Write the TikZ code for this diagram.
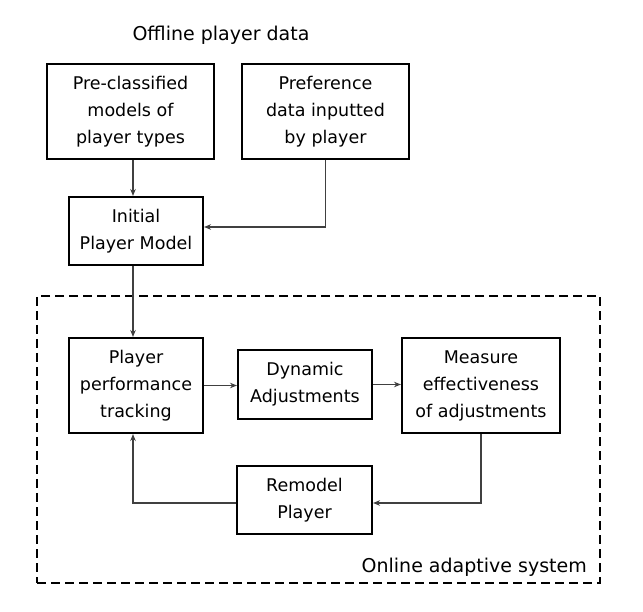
\documentclass[tikz,border=0pt]{standalone}
\usepackage{fontspec}
\setmainfont{DejaVu Sans}
\usetikzlibrary{arrows.meta,calc}
\begin{document}
\begin{tikzpicture}[x=1pt,y=-1pt,
  blk/.style={draw=black,line width=2pt,rectangle,inner sep=0pt,align=center,
    font=\fontsize{17.5}{27}\selectfont},
  conn/.style={draw=black!75,line width=1.3pt,-{Stealth[length=7pt,width=5.5pt]}},
  lbl/.style={font=\fontsize{19}{23}\selectfont,inner sep=0pt}]
\useasboundingbox (0,0) rectangle (643,612);
\node[blk,minimum width=167pt,minimum height=95pt] (A) at (130.5,111.5) {Pre-classified\\models of\\player types};
\node[blk,minimum width=167pt,minimum height=95pt] (B) at (325.5,111.5) {Preference\\data inputted\\by player};
\node[blk,minimum width=134pt,minimum height=68pt] (C) at (136,231) {Initial\\Player Model};
\node[blk,minimum width=134pt,minimum height=95pt] (P) at (136,385.5) {Player\\performance\\tracking};
\node[blk,minimum width=134pt,minimum height=69pt] (D) at (305,384.5) {Dynamic\\Adjustments};
\node[blk,minimum width=158pt,minimum height=95pt] (M) at (481,385.5) {Measure\\effectiveness\\of adjustments};
\node[blk,minimum width=135pt,minimum height=68pt] (R) at (304.5,500) {Remodel\\Player};
\node[draw=black,line width=2pt,dash pattern=on 9pt off 5pt,rectangle,inner sep=0pt,
  minimum width=563pt,minimum height=287pt] (S) at (318.5,439.5) {};
\node[lbl] (T1) at (221,35) {Offline player data};
\node[lbl,anchor=base east] (T2) at (587,572) {Online adaptive system};
\draw[conn] ([xshift=2.5pt]A.south) -- ([xshift=2.5pt]A.south |- C.north);
\draw[conn] (B.south) |- ([yshift=4pt]C.east);
\draw[conn] ([xshift=-3pt]C.south) -- ([xshift=-3pt]P.north);
\draw[conn] (P.east) -- (P.east -| D.west);
\draw[conn] (D.east) -- (D.east -| M.west);
\draw[conn] (M.south) |- ([yshift=-3pt]R.east);
\draw[conn] ([yshift=-3pt]R.west) -| ([xshift=-3pt]P.south);
\end{tikzpicture}
\end{document}
